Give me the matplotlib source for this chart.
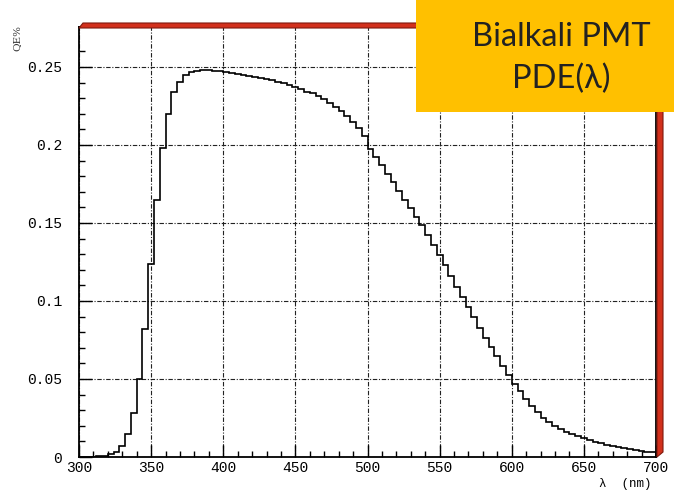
import matplotlib.pyplot as plt
import numpy as np
from matplotlib.patches import Polygon, Rectangle

# quantum efficiency histogram, 100 bins of 4 nm between 300 and 700 nm
edges = np.arange(300, 701, 4)
qe = [0.0, 0.0003, 0.0003, 0.0005, 0.0008, 0.0017, 0.0034, 0.007, 0.0147, 0.028,
      0.050, 0.082, 0.124, 0.165, 0.198, 0.220, 0.234, 0.2405, 0.245, 0.2466,
      0.2476, 0.2480, 0.2480, 0.2475, 0.2472, 0.2468, 0.2462, 0.2456, 0.2450, 0.2444,
      0.2438, 0.2430, 0.2422, 0.2414, 0.2404, 0.2394, 0.2384, 0.2372, 0.2358, 0.2342,
      0.2330, 0.2312, 0.2292, 0.2270, 0.2246, 0.2220, 0.2188, 0.2150, 0.2110, 0.2060,
      0.1975, 0.1925, 0.1870, 0.1815, 0.1760, 0.1705, 0.1650, 0.1595, 0.1540, 0.1485,
      0.1425, 0.1360, 0.1295, 0.1228, 0.1160, 0.1092, 0.1025, 0.0960, 0.0895, 0.0830,
      0.0765, 0.0705, 0.0645, 0.0585, 0.0528, 0.0470, 0.0420, 0.0372, 0.0327, 0.0287,
      0.0252, 0.0222, 0.0197, 0.0177, 0.0160, 0.0145, 0.0132, 0.0120, 0.0108, 0.0097,
      0.0087, 0.0078, 0.0070, 0.0062, 0.0055, 0.0049, 0.0044, 0.0039, 0.0034, 0.0030]

xticks = [300, 350, 400, 450, 500, 550, 600, 650, 700]
yticks = [0, 0.05, 0.1, 0.15, 0.2, 0.25]
ylabels = ["0", "0.05", "0.1", "0.15", "0.2", "0.25"]

W, H = 674, 490
fig = plt.figure(figsize=(W / 100, H / 100), dpi=100)


def fx(px): return px / W
def fy(py): return 1 - py / H


ax = fig.add_axes([fx(79), fy(457), fx(656) - fx(79), fy(27) - fy(457)])
ax.stairs(qe, edges, color='black', lw=1.2, zorder=3)
ax.set_xlim(300, 700)
ax.set_ylim(0, 0.2756)

mono = 'Liberation Mono'
ax.set_xticks(xticks)
ax.set_xticklabels([str(v) for v in xticks], family=mono, fontsize=10.5)
ax.set_yticks(yticks)
ax.set_yticklabels(ylabels, family=mono, fontsize=10.5)
ax.set_xticks(np.arange(300, 701, 10), minor=True)
ax.set_yticks(np.arange(0, 0.27, 0.01), minor=True)
ax.tick_params(which='major', direction='in', length=9, width=1, pad=3)
ax.tick_params(axis='y', which='major', pad=12)
ax.tick_params(which='minor', direction='in', length=4.5, width=1)
ax.tick_params(top=False, right=False, which='both')
ax.grid(True, which='major', color='#222222', lw=0.8, linestyle=(0, (4, 1.5, 1, 1.5)))
for s in ax.spines.values():
    s.set_linewidth(1.3)

# red bevelled frame border along the top and right
red, dark = '#d2301c', '#7e1a0e'
top = Polygon([(fx(79), fy(28)), (fx(83), fy(23)), (fx(663), fy(23)), (fx(657), fy(28))],
              closed=True, transform=fig.transFigure, facecolor=red, edgecolor=dark, lw=0.8)
right = Polygon([(fx(657), fy(28)), (fx(663), fy(23)), (fx(663), fy(452)), (fx(657), fy(457))],
                closed=True, transform=fig.transFigure, facecolor=red, edgecolor=dark, lw=0.8)
fig.add_artist(top)
fig.add_artist(right)

fig.text(fx(17), fy(38), 'QE%', rotation=90, family='DejaVu Serif', fontsize=7.5,
         ha='center', va='center', color='#333333')
fig.text(fx(625), fy(484), 'λ  (nm)', family=mono, fontsize=9,
         ha='center', va='center')

# title box in the corner
box = Rectangle((fx(416), fy(112)), 1 - fx(416), fy(0) - fy(112), transform=fig.transFigure,
                facecolor='#ffc000', edgecolor='none', zorder=10)
fig.add_artist(box)
fig.text(fx(561), fy(37), 'Bialkali PMT', family='Lato', fontsize=23.5,
         ha='center', va='center', color='#222222', zorder=11)
fig.text(fx(561), fy(79), 'PDE(λ)', family='Lato', fontsize=23.5,
         ha='center', va='center', color='#222222', zorder=11)

fig.savefig('out.png', dpi=100)
